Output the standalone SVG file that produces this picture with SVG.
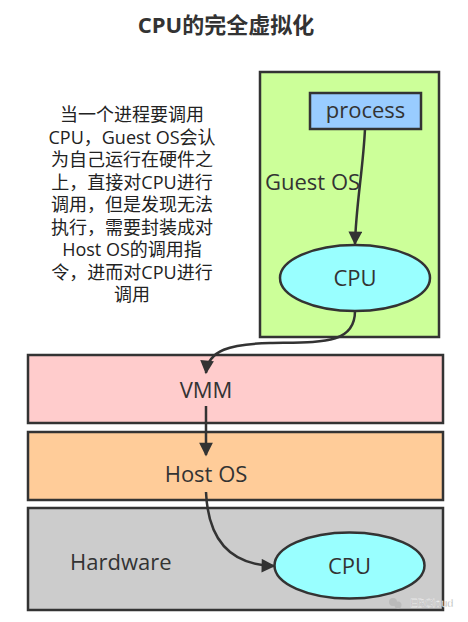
<svg xmlns="http://www.w3.org/2000/svg" width="468" height="622" viewBox="0 0 468 622">
<defs>
<style>
.box{stroke:#333;stroke-width:2.5}
.t{font-family:"Open Sans","Noto Sans CJK SC",sans-serif;font-size:22px;fill:#333}
.note{font-family:"Open Sans","Noto Sans CJK SC",sans-serif;font-size:18px;fill:#222;text-anchor:middle}
.edge{fill:none;stroke:#333;stroke-width:2.5}
</style>
<marker id="arr" viewBox="0 0 10 10" refX="9" refY="5" markerWidth="6" markerHeight="5.5" orient="auto" markerUnits="strokeWidth">
<path d="M0,0 L10,5 L0,10 Z" fill="#333"/>
</marker>
</defs>
<rect width="468" height="622" fill="#fff"/>
<text x="226" y="33" text-anchor="middle" style="font-family:'Open Sans','Noto Sans CJK SC',sans-serif;font-size:22px;font-weight:bold;fill:#333">CPU的完全虚拟化</text>
<g id="note">
<text class="note" x="132" y="121"><tspan x="132">当一个进程要调用</tspan><tspan x="132" dy="22.5">CPU，Guest OS会认</tspan><tspan x="132" dy="22.5">为自己运行在硬件之</tspan><tspan x="132" dy="22.5">上，直接对CPU进行</tspan><tspan x="132" dy="22.5">调用，但是发现无法</tspan><tspan x="132" dy="22.5">执行，需要封装成对</tspan><tspan x="132" dy="22.5">Host OS的调用指</tspan><tspan x="132" dy="22.5">令，进而对CPU进行</tspan><tspan x="132" dy="22.5">调用</tspan></text>
</g>
<g id="guestos">
<rect class="box" x="260" y="72" width="179" height="265" fill="#CCFF99"/>
<text class="t" x="265" y="190">Guest OS</text>
</g>
<g id="process">
<rect class="box" x="310" y="93" width="111" height="36" fill="#99CCFF"/>
<text class="t" x="365.5" y="118" text-anchor="middle">process</text>
</g>
<g id="guestcpu">
<ellipse class="box" cx="355" cy="278" rx="75" ry="33" fill="#99FFFF"/>
<text class="t" x="355" y="286" text-anchor="middle">CPU</text>
</g>
<g id="vmm">
<rect class="box" x="28" y="355" width="415" height="68" fill="#FFCCCC"/>
<text class="t" x="206" y="398" text-anchor="middle">VMM</text>
</g>
<g id="hostos">
<rect class="box" x="28" y="432" width="415" height="68" fill="#FFCC99"/>
<text class="t" x="206" y="482" text-anchor="middle">Host OS</text>
</g>
<g id="hardware">
<rect class="box" x="28" y="508" width="415" height="102" fill="#CCCCCC"/>
<text class="t" x="70" y="570">Hardware</text>
</g>
<g id="hwcpu">
<ellipse class="box" cx="349.5" cy="565.5" rx="75" ry="33" fill="#99FFFF"/>
<text class="t" x="349.5" y="574" text-anchor="middle">CPU</text>
</g>
<g id="connectors">
<path class="edge" d="M365,129 C363,170 356,205 355,244" marker-end="url(#arr)"/>
<path class="edge" d="M355,311 C355,345 320,342 270,343 C230,344 208,350 206,373" marker-end="url(#arr)"/>
<path class="edge" d="M206,406 L206,455" marker-end="url(#arr)"/>
<path class="edge" d="M206,492 C208,540 230,565 274,566" marker-end="url(#arr)"/>
</g>
<g id="watermark">
<circle cx="393" cy="602" r="4" fill="#bbb"/>
<circle cx="398" cy="605" r="3.5" fill="#bbb"/>
<text x="410" y="607" style="font-family:'Liberation Sans',sans-serif;font-size:11px;fill:#aaa;stroke:#fff;stroke-width:0.3">EBCloud</text>
</g>
</svg>
